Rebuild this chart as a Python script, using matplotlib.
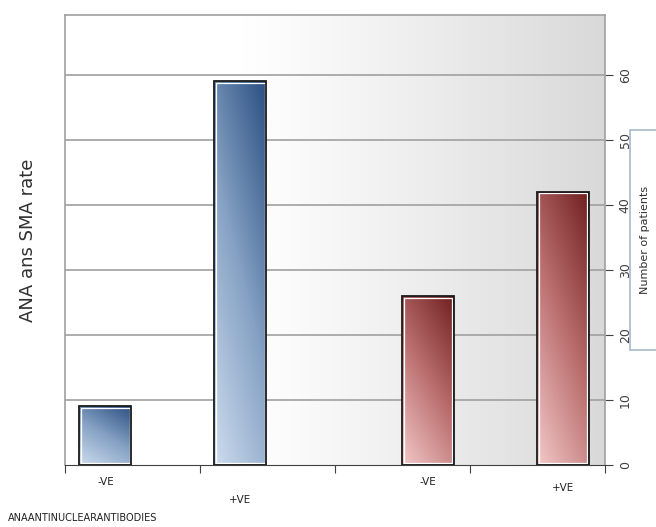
import numpy as np
import matplotlib.pyplot as plt
from matplotlib.colors import LinearSegmentedColormap
from matplotlib.patches import Rectangle

# data
categories = ['-VE', '+VE', '-VE', '+VE']
ana_values = [9, 59, 0, 0]     # blue series (ANA)
sma_values = [0, 0, 26, 42]    # red series (SMA)
right_ticks = [0, 10, 20, 30, 40, 50, 60]

fig = plt.figure(figsize=(6.56, 5.27), dpi=100)
ax = fig.add_axes([0.099, 0.1176, 0.823, 0.854])

x = np.arange(len(categories))
w = 0.385
ax.set_xlim(-0.5, 3.5)
ax.set_ylim(0, 69.2)

# background gradient white -> grey towards the right
f = np.linspace(0, 1, 300)
g = 1 - 0.15 * np.clip((f - 0.33) / 0.67, 0, 1) ** 1.1
bg = np.stack([g, g, g], axis=-1)[np.newaxis, :, :].repeat(2, axis=0)
ax.imshow(bg, extent=[-0.5, 3.5, 0, 69.2], aspect='auto', zorder=0)

# grid lines
for t in right_ticks[1:]:
    ax.axhline(t, color='#a0a0a0', lw=1.2, zorder=1)

blue_cmap = LinearSegmentedColormap.from_list('b', ['#cddcee', '#86a2c4', '#2b5082'])
red_cmap = LinearSegmentedColormap.from_list('r', ['#f2c8c8', '#bc7070', '#701f1f'])

yy, xx = np.mgrid[0:1:100j, 0:1:100j]
grad = np.clip(0.35 * xx + 0.65 * yy, 0, 1)

# pixel sizes in data units, for the inset white border
px_x = 4.0 / (0.823 * 656)
px_y = 69.2 / (0.854 * 527)

def gradient_bars(pos, vals, cmap):
    bars = ax.bar(pos, vals, w, facecolor='none', edgecolor='#1a1a1a', lw=1.3, zorder=4)
    for b, v in zip(bars, vals):
        if v <= 0:
            b.set_visible(False)
            continue
        x0, y0 = b.get_x(), b.get_y()
        im = ax.imshow(grad, extent=[x0, x0 + w, y0, y0 + v], origin='lower',
                       cmap=cmap, aspect='auto', zorder=2)
        im.set_clip_path(b)
        ax.add_patch(Rectangle((x0 + 1.6 * px_x, y0 + 1.6 * px_y),
                               w - 3.2 * px_x, v - 3.2 * px_y,
                               facecolor='none', edgecolor='white', lw=0.9, zorder=3))

gradient_bars(x - 0.2, ana_values, blue_cmap)
gradient_bars(x + 0.19, sma_values, red_cmap)

# axes styling
for s in ['top', 'left', 'right']:
    ax.spines[s].set_color('#a0a0a0')
    ax.spines[s].set_linewidth(1.2)
ax.spines['bottom'].set_color('#404040')
ax.set_xticks(np.arange(-0.5, 4, 1))
ax.set_xticklabels([])
ax.tick_params(axis='x', direction='out', length=6, color='#404040')
ax.yaxis.tick_right()
ax.set_yticks(right_ticks)
ax.set_yticklabels([str(t) for t in right_ticks], rotation=90, va='center',
                   fontsize=9, color='#404040')
ax.tick_params(axis='y', direction='out', length=6, color='#404040', pad=4)

# category labels under each bar, staggered
bar_centres = [x[0] - 0.2, x[1] - 0.2, x[2] + 0.19, x[3] + 0.19]
drops = [17, 35, 17, 23]
for c, lab, d in zip(bar_centres, categories, drops):
    ax.annotate(lab, xy=(c, 0), xycoords=('data', 'axes fraction'),
                xytext=(0, -d * 0.72), textcoords='offset points',
                ha='center', va='center', fontsize=7.5, color='#202020')

fig.text(28 / 656, 1 - 240 / 527, 'ANA ans SMA rate', rotation=90,
         ha='center', va='center', fontsize=13, color='#303030')
fig.text(8 / 656, 1 - 518 / 527, 'ANAANTINUCLEARANTIBODIES',
         ha='left', va='center', fontsize=7, color='#202020')

# legend-like box on the right
fig.patches.append(Rectangle((630 / 656, 1 - 350 / 527), 40 / 656, 220 / 527,
                             transform=fig.transFigure, facecolor='white',
                             edgecolor='#a8b8c8', lw=1.2, zorder=1))
fig.text(645 / 656, 1 - 240 / 527, 'Number of patients', rotation=90,
         ha='center', va='center', fontsize=8, color='#303030', zorder=2)

fig.savefig('out.png', dpi=100)
